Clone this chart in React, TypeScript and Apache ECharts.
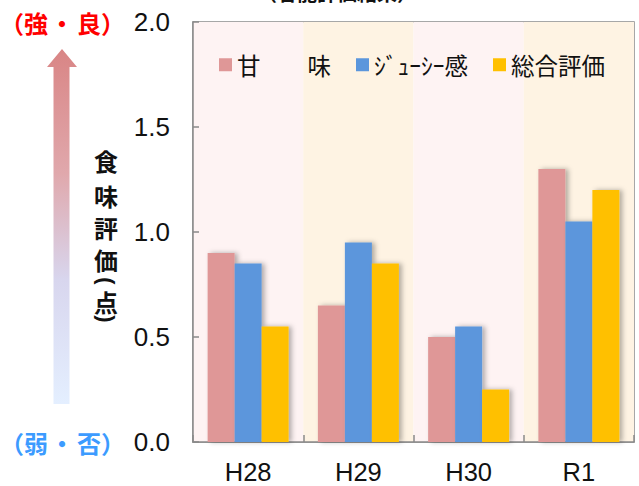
import React, { useEffect, useRef } from "react";
import * as echarts from "echarts";

const categories = ["H28", "H29", "H30", "R1"];
const seriesNames = ["甘　　味", "ｼﾞｭｰｼｰ感", "総合評価"];
const sweetness = [0.9, 0.65, 0.5, 1.3];
const juiciness = [0.85, 0.95, 0.55, 1.05];
const overall = [0.55, 0.85, 0.25, 1.2];
const yTicks = [0, 0.5, 1.0, 1.5, 2.0];
const colors = ["#DF9797", "#5B96DC", "#FFC000"];
const yLabelChars = ["食", "味", "評", "価", "(", "点", ")"];
const yLabelCharY = [160, 195, 227, 259, 281, 301, 319];
const strongParts = ["（強", "・", "良）"];
const weakParts = ["（弱", "・", "否）"];
const sidePartX = [48, 62, 77];
const sidePartAlign = ["right", "center", "left"];

export default function App() {
  const ref = useRef<HTMLDivElement>(null);
  useEffect(() => {
    if (!ref.current) return;
    const chart = echarts.init(ref.current, undefined, { renderer: "svg" });
    const values = [sweetness, juiciness, overall];
    const font = "'Liberation Sans', Arial, sans-serif";
    const cjk = "'Noto Sans CJK JP', sans-serif";
    const sideText = (parts: string[], y: number, color: string) =>
      parts.map((c, i) => ({
        type: "text",
        x: sidePartX[i],
        y,
        style: {
          text: c,
          fontSize: 24,
          fontWeight: "bold",
          fill: color,
          fontFamily: cjk,
          align: sidePartAlign[i],
          verticalAlign: "middle",
        },
      }));
    chart.setOption({
      animation: false,
      backgroundColor: "#ffffff",
      grid: {
        left: 193,
        right: 5,
        top: 22,
        bottom: 44,
        show: true,
        borderColor: "#8a8a8a",
        borderWidth: 1.5,
        backgroundColor: "transparent",
      },
      legend: {
        show: true,
        left: 219,
        top: 53,
        padding: 0,
        itemWidth: 13,
        itemHeight: 13,
        itemGap: 25,
        icon: "rect",
        textStyle: { fontSize: 23.5, color: "#111", fontFamily: cjk },
        data: seriesNames,
      },
      xAxis: {
        type: "category",
        data: categories,
        axisLine: { lineStyle: { color: "#8a8a8a", width: 1.5 } },
        axisTick: { show: true, inside: true, length: 7, lineStyle: { color: "#8a8a8a", width: 1.5 } },
        axisLabel: { fontSize: 25.5, color: "#111", margin: 17, fontFamily: font },
        splitArea: {
          show: true,
          areaStyle: { color: ["#FEF3F3", "#FEF3E3"] },
        },
      },
      yAxis: {
        type: "value",
        min: 0,
        max: 2,
        interval: 0.5,
        axisLine: { show: true, lineStyle: { color: "#8a8a8a", width: 1.5 } },
        axisTick: { show: true, inside: true, length: 6, lineStyle: { color: "#8a8a8a", width: 1.5 } },
        splitLine: { show: false },
        axisLabel: {
          fontSize: 26,
          color: "#111",
          margin: 23,
          fontFamily: font,
          formatter: (v: number) => (yTicks.includes(v) ? v.toFixed(1) : ""),
        },
      },
      series: seriesNames.map((name, i) => ({
        name,
        type: "bar",
        data: values[i],
        barWidth: 27,
        barGap: "0%",
        itemStyle: {
          color: colors[i],
          shadowColor: "rgba(0,0,0,0.3)",
          shadowBlur: 5,
          shadowOffsetX: 3,
          shadowOffsetY: 0,
        },
      })),
      graphic: [
        {
          type: "text",
          x: 337,
          y: -8,
          style: {
            text: "（官能評価結果）",
            fontSize: 20,
            fontWeight: "bold",
            fill: "#111",
            fontFamily: cjk,
            align: "center",
            verticalAlign: "middle",
          },
        },
        {
          type: "polygon",
          shape: {
            points: [
              [62, 49],
              [77, 67],
              [69.5, 67],
              [69.5, 404],
              [53.5, 404],
              [53.5, 67],
              [47, 67],
            ],
          },
          style: {
            fill: new echarts.graphic.LinearGradient(0, 0, 0, 1, [
              { offset: 0, color: "#D98585" },
              { offset: 0.35, color: "#E0A8AC" },
              { offset: 0.65, color: "#D8D6EE" },
              { offset: 1, color: "#E4EFFF" },
            ]),
          },
        },
        ...sideText(strongParts, 22, "#FF0000"),
        ...sideText(weakParts, 442, "#3C9BFF"),
        ...yLabelChars.map((c, i) => {
          const paren = c === "(" || c === ")";
          return {
            type: "text",
            x: 106,
            y: yLabelCharY[i],
            rotation: paren ? -Math.PI / 2 : 0,
            style: {
              text: c,
              fontSize: paren ? 22 : 24,
              fontWeight: "bold",
              fill: "#111",
              fontFamily: paren ? font : cjk,
              align: "center",
              verticalAlign: "middle",
            },
          };
        }),
      ],
    });
    return () => chart.dispose();
  }, []);
  return (
    <div
      ref={ref}
      style={{ position: "absolute", left: 0, top: 0, width: 639, height: 486 }}
    />
  );
}
